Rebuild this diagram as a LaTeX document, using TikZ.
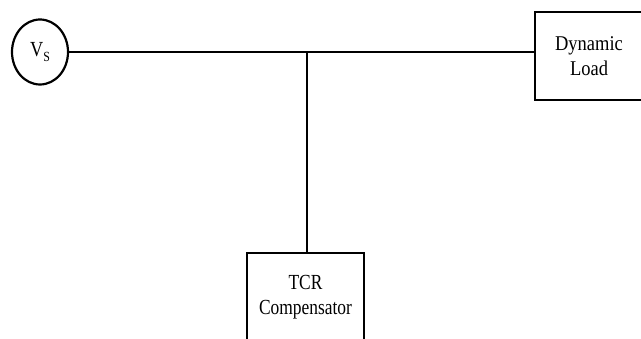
\documentclass[tikz,border=0pt]{standalone}
\usepackage{fontspec}
\setmainfont{Liberation Serif}
\newfontfamily\loadfont[FakeStretch=0.88]{Liberation Serif}
\newfontfamily\tcrfont[FakeStretch=0.81]{Liberation Serif}
\newfontfamily\vsfont[FakeStretch=0.85]{Liberation Serif}
\usetikzlibrary{shapes.geometric}
\begin{document}
\begin{tikzpicture}[x=1pt,y=1pt,
  wire/.style={line width=2.4pt},
  blockbox/.style={draw,line width=2.6pt,align=center,inner sep=0pt},
  source/.style={draw,ellipse,line width=2.2pt,inner sep=0pt,minimum width=56pt,minimum height=65pt}]
\useasboundingbox (0,0) rectangle (641,338);
\node[source] (vs) at (40,286) {\vsfont\fontsize{21.5}{24}\selectfont V\raisebox{-5pt}{\fontsize{14}{15}\selectfont S}};
\node[blockbox,minimum width=108pt,minimum height=88pt,
  font=\loadfont\fontsize{21}{24.5}\selectfont] (load) at (589,282) {Dynamic\\Load};
\node[blockbox,minimum width=117pt,minimum height=89pt,
  font=\tcrfont\fontsize{21.5}{25}\selectfont] (tcr) at (305.5,40.5) {TCR\\Compensator};
\coordinate (j) at (307,286);
\draw[wire] (vs.east) -- (vs.east -| load.west);
\draw[wire] (j) -- (j |- tcr.north);
\end{tikzpicture}
\end{document}
